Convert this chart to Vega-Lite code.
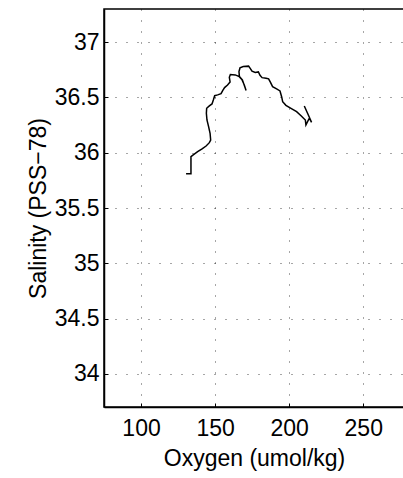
{
  "$schema": "https://vega.github.io/schema/vega-lite/v6.json",
  "width": 300,
  "height": 398,
  "autosize": {"type": "none"},
  "padding": {"left": 104, "top": 9, "right": 0, "bottom": 71},
  "background": "white",
  "config": {
    "view": {"stroke": "black", "strokeWidth": 1.5},
    "font": "Liberation Sans",
    "axis": {
      "labelFont": "Liberation Sans",
      "titleFont": "Liberation Sans",
      "labelColor": "black",
      "titleColor": "black",
      "titleFontWeight": "normal",
      "labelFontSize": 23,
      "titleFontSize": 23,
      "domainColor": "black",
      "domainWidth": 1.5,
      "tickColor": "black",
      "tickSize": -4,
      "grid": true,
      "gridColor": "black",
      "gridDash": [1, 10],
      "gridWidth": 1,
      "gridOpacity": 0.7
    }
  },
  "data": {
    "values": [
      {"i": 1, "o2": 130.4, "s": 35.81},
      {"i": 2, "o2": 133.7, "s": 35.81},
      {"i": 3, "o2": 133.7, "s": 35.964},
      {"i": 4, "o2": 134.8, "s": 35.976},
      {"i": 5, "o2": 138.2, "s": 36.009},
      {"i": 6, "o2": 141.2, "s": 36.034},
      {"i": 7, "o2": 143.9, "s": 36.061},
      {"i": 8, "o2": 146.1, "s": 36.091},
      {"i": 9, "o2": 147.0, "s": 36.115},
      {"i": 10, "o2": 146.6, "s": 36.176},
      {"i": 11, "o2": 145.6, "s": 36.236},
      {"i": 12, "o2": 144.5, "s": 36.296},
      {"i": 13, "o2": 144.1, "s": 36.357},
      {"i": 14, "o2": 144.3, "s": 36.402},
      {"i": 15, "o2": 146.1, "s": 36.423},
      {"i": 16, "o2": 147.9, "s": 36.441},
      {"i": 17, "o2": 148.8, "s": 36.477},
      {"i": 18, "o2": 149.7, "s": 36.516},
      {"i": 19, "o2": 151.7, "s": 36.523},
      {"i": 20, "o2": 154.0, "s": 36.534},
      {"i": 21, "o2": 155.1, "s": 36.562},
      {"i": 22, "o2": 156.4, "s": 36.589},
      {"i": 23, "o2": 158.4, "s": 36.613},
      {"i": 24, "o2": 160.1, "s": 36.64},
      {"i": 25, "o2": 159.6, "s": 36.683},
      {"i": 26, "o2": 160.3, "s": 36.707},
      {"i": 27, "o2": 163.6, "s": 36.704},
      {"i": 28, "o2": 166.3, "s": 36.688},
      {"i": 29, "o2": 168.2, "s": 36.659},
      {"i": 30, "o2": 169.7, "s": 36.613},
      {"i": 31, "o2": 170.9, "s": 36.562},
      {"i": 32, "o2": 168.4, "s": 36.659},
      {"i": 33, "o2": 166.4, "s": 36.69},
      {"i": 34, "o2": 166.1, "s": 36.734},
      {"i": 35, "o2": 166.8, "s": 36.767},
      {"i": 36, "o2": 169.0, "s": 36.779},
      {"i": 37, "o2": 172.6, "s": 36.783},
      {"i": 38, "o2": 173.8, "s": 36.761},
      {"i": 39, "o2": 174.9, "s": 36.737},
      {"i": 40, "o2": 177.1, "s": 36.725},
      {"i": 41, "o2": 179.2, "s": 36.731},
      {"i": 42, "o2": 180.3, "s": 36.701},
      {"i": 43, "o2": 181.7, "s": 36.679},
      {"i": 44, "o2": 184.4, "s": 36.674},
      {"i": 45, "o2": 186.1, "s": 36.668},
      {"i": 46, "o2": 187.3, "s": 36.638},
      {"i": 47, "o2": 188.8, "s": 36.598},
      {"i": 48, "o2": 191.5, "s": 36.577},
      {"i": 49, "o2": 193.8, "s": 36.559},
      {"i": 50, "o2": 194.9, "s": 36.507},
      {"i": 51, "o2": 195.6, "s": 36.462},
      {"i": 52, "o2": 197.8, "s": 36.429},
      {"i": 53, "o2": 201.2, "s": 36.402},
      {"i": 54, "o2": 205.0, "s": 36.371},
      {"i": 55, "o2": 208.0, "s": 36.335},
      {"i": 56, "o2": 210.9, "s": 36.296},
      {"i": 57, "o2": 211.3, "s": 36.251},
      {"i": 58, "o2": 212.4, "s": 36.281},
      {"i": 59, "o2": 213.6, "s": 36.312},
      {"i": 60, "o2": 215.1, "s": 36.275},
      {"i": 61, "o2": 212.4, "s": 36.357},
      {"i": 62, "o2": 210.2, "s": 36.423}
    ]
  },
  "mark": {"type": "line", "color": "black", "strokeWidth": 1.5, "clip": true},
  "encoding": {
    "x": {
      "field": "o2", "type": "quantitative",
      "scale": {"domain": [75, 277.5], "nice": false, "zero": false},
      "axis": {"values": [100, 150, 200, 250], "format": "d", "title": "Oxygen (umol/kg)", "labelPadding": 14, "titlePadding": 7}
    },
    "y": {
      "field": "s", "type": "quantitative",
      "scale": {"domain": [33.7, 37.3], "nice": false, "zero": false},
      "axis": {"values": [34, 34.5, 35, 35.5, 36, 36.5, 37], "format": ".3~g", "title": "Salinity (PSS\u221278)", "labelPadding": 9, "titlePadding": 4}
    },
    "order": {"field": "i", "type": "quantitative"}
  }
}
